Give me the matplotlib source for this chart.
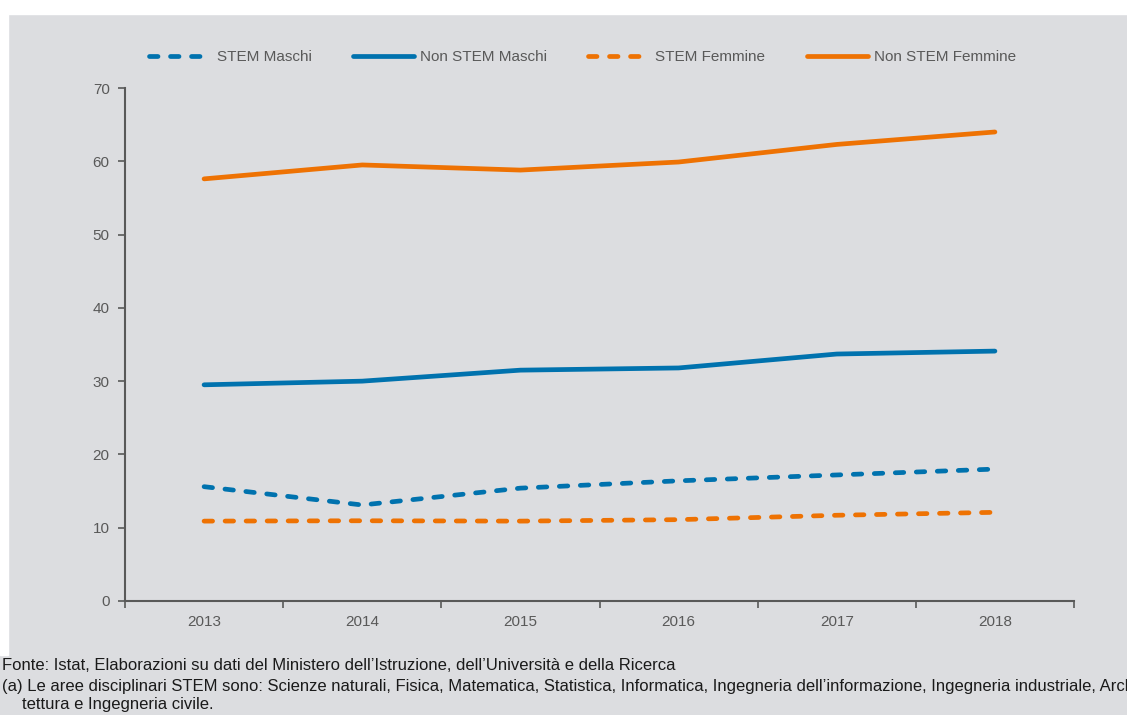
import matplotlib
matplotlib.use("Agg")
import matplotlib.pyplot as plt
import matplotlib.patches as mpatches

# ── Data ──────────────────────────────────────────────────────────────────────
anni = ["2013", "2014", "2015", "2016", "2017", "2018"]
stem_maschi      = [15.6, 13.1, 15.4, 16.4, 17.2, 18.0]
non_stem_maschi  = [29.5, 30.0, 31.5, 31.8, 33.7, 34.1]
stem_femmine     = [10.9, 10.95, 10.9, 11.1, 11.7, 12.1]
non_stem_femmine = [57.6, 59.5, 58.8, 59.9, 62.3, 64.0]

fonte = "Fonte: Istat, Elaborazioni su dati del Ministero dell\u2019Istruzione, dell\u2019Universit\u00e0 e della Ricerca"
nota_1 = ("(a) Le aree disciplinari STEM sono: Scienze naturali, Fisica, Matematica, Statistica, "
          "Informatica, Ingegneria dell\u2019informazione, Ingegneria industriale, Archi-")
nota_2 = "tettura e Ingegneria civile."

# ── Style ─────────────────────────────────────────────────────────────────────
BG    = "#dcdde0"
BLUE  = "#0072ae"
ORNG  = "#ee7203"
TXT   = "#595959"
FONT  = ["Liberation Sans", "DejaVu Sans"]

plt.rcParams["font.family"] = FONT

fig = plt.figure(figsize=(11.27, 7.15), dpi=100, facecolor=BG)

# white margins top / left like the source page
fig.patches.append(mpatches.Rectangle((0, 1 - 14 / 715), 1, 14 / 715,
                                      transform=fig.transFigure, color="white", zorder=0))
fig.patches.append(mpatches.Rectangle((0, 60 / 715), 8 / 1127, 1,
                                      transform=fig.transFigure, color="white", zorder=0))

ax = fig.add_axes([125 / 1127, 114 / 715, 949 / 1127, 513 / 715])
ax.set_facecolor(BG)

x = list(range(len(anni)))
LW = 3.4
dash = (1.8, 2.65)
ax.plot(x, stem_maschi, color=BLUE, lw=LW, dashes=dash, dash_capstyle="round",
        label="STEM Maschi")
ax.plot(x, non_stem_maschi, color=BLUE, lw=LW, solid_capstyle="round",
        label="Non STEM Maschi")
ax.plot(x, stem_femmine, color=ORNG, lw=LW, dashes=dash, dash_capstyle="round",
        label="STEM Femmine")
ax.plot(x, non_stem_femmine, color=ORNG, lw=LW, solid_capstyle="round",
        label="Non STEM Femmine")

ax.set_xlim(-0.5, len(anni) - 0.5)
ax.set_ylim(0, 70)
ax.set_yticks(range(0, 71, 10))
ax.set_xticks([i - 0.5 for i in range(len(anni) + 1)])
ax.set_xticklabels([])
ax.set_xticks(x, minor=True)
ax.set_xticklabels(anni, minor=True)
ax.tick_params(axis="x", which="minor", length=0, pad=10)
ax.tick_params(axis="x", which="major", length=5, direction="out", color=TXT, width=1.2)
ax.tick_params(axis="y", length=5, direction="out", color=TXT, width=1.2, pad=6)
ax.tick_params(axis="both", which="both", labelsize=11, labelcolor=TXT)

for s in ["top", "right"]:
    ax.spines[s].set_visible(False)
for s in ["left", "bottom"]:
    ax.spines[s].set_color(TXT)
    ax.spines[s].set_linewidth(1.5)

fig.legend(loc="center", bbox_to_anchor=(0.517, 1 - 57 / 715), ncol=4,
           frameon=False, fontsize=11, handlelength=4.0, handletextpad=0.4,
           columnspacing=2.7, labelcolor=TXT)

# ── Footer ────────────────────────────────────────────────────────────────────
fig.text(2 / 1127, 1 - 666 / 715, fonte, fontsize=12,
         color="#1a1a1a", va="center", ha="left")
fig.text(2 / 1127, 1 - 686 / 715, nota_1, fontsize=12,
         color="#1a1a1a", va="center", ha="left")
fig.text(22 / 1127, 1 - 705 / 715, nota_2, fontsize=12,
         color="#1a1a1a", va="center", ha="left")

fig.savefig("out.png", dpi=100, facecolor=BG)
